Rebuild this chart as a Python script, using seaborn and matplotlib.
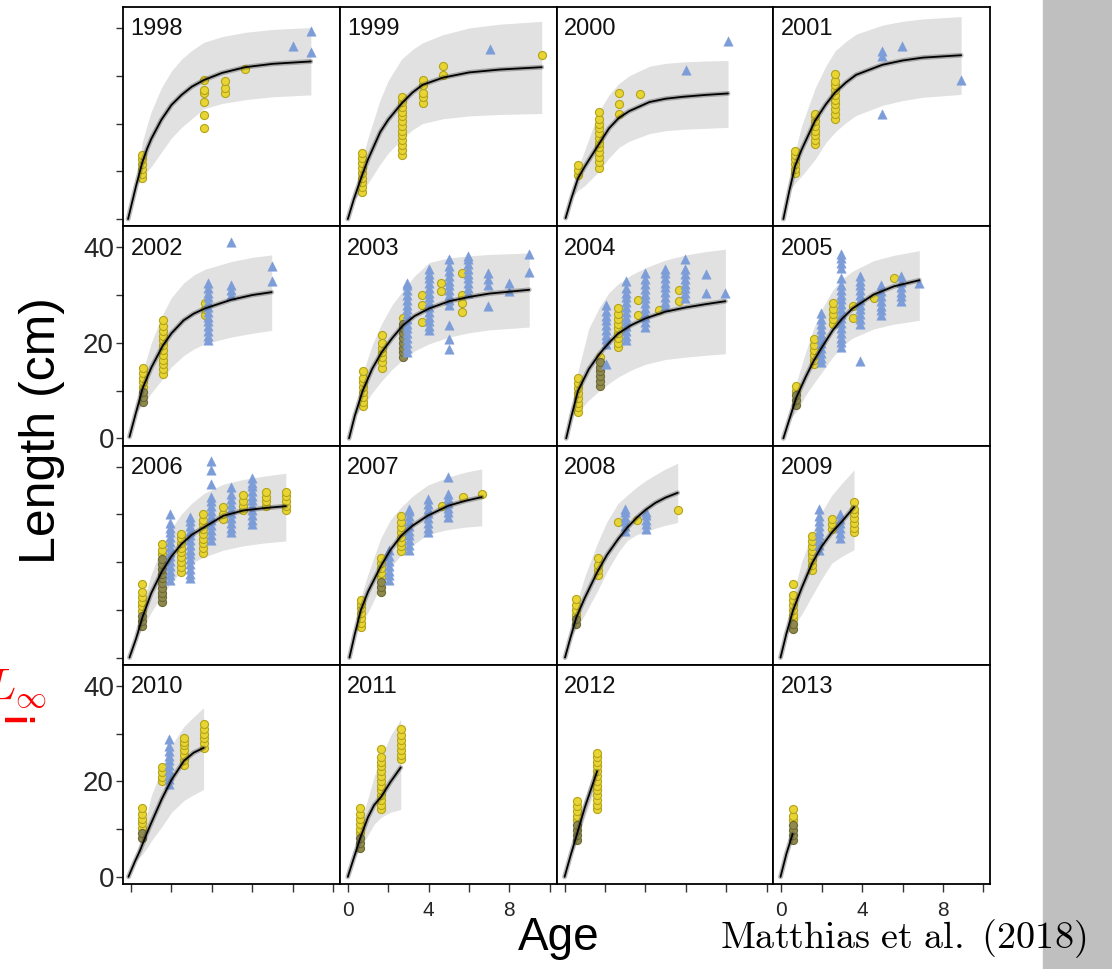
import matplotlib
matplotlib.use("Agg")
import matplotlib.pyplot as plt
from matplotlib.lines import Line2D
from matplotlib.patches import Rectangle
import pandas as pd
import seaborn as sns

# ---------------------------------------------------------------- data
YEARS = [1998, 1999, 2000, 2001, 2002, 2003, 2004, 2005,
         2006, 2007, 2008, 2009, 2010, 2011, 2012, 2013]

# fitted growth curve (age, mean length) per cohort
CURVE_AGE = {
    1998: [-0.15, 0.25, 0.55, 0.8, 1.0, 1.5, 2.0, 2.5, 3.0, 3.6, 4.5, 5.65, 7.0, 8.9],
    1999: [0.0, 0.3, 0.68, 1.0, 1.6, 2.0, 2.66, 3.2, 3.7, 4.7, 6.0, 7.5, 9.6],
    2000: [0.05, 0.35, 0.66, 1.0, 1.7, 2.2, 2.69, 3.2, 4.2, 5.0, 5.85, 7.0, 8.09],
    2001: [0.1, 0.4, 0.68, 1.0, 1.67, 2.2, 2.66, 3.2, 3.7, 5.0, 6.0, 7.0, 8.9],
    2002: [-0.08, 0.25, 0.58, 1.0, 1.57, 2.0, 2.6, 3.1, 3.66, 4.95, 6.0, 6.96],
    2003: [0.06, 0.35, 0.73, 1.2, 1.67, 2.2, 2.74, 3.3, 4.03, 5.02, 6.0, 7.0, 8.98],
    2004: [0.08, 0.35, 0.66, 1.2, 1.73, 2.2, 2.64, 3.3, 4.0, 4.98, 6.0, 7.0, 7.96],
    2005: [0.1, 0.4, 0.73, 1.2, 1.6, 2.0, 2.54, 3.0, 3.53, 4.57, 5.56, 6.83],
    2006: [-0.08, 0.25, 0.56, 1.0, 1.52, 2.0, 2.48, 3.0, 3.58, 4.57, 5.56, 6.6, 7.66],
    2007: [0.08, 0.35, 0.64, 1.0, 1.63, 2.1, 2.64, 3.2, 3.95, 4.98, 5.8, 6.63],
    2008: [0.02, 0.3, 0.58, 1.0, 1.63, 2.1, 2.65, 3.1, 3.6, 4.0, 4.5, 5.0, 5.6],
    2009: [-0.04, 0.25, 0.58, 1.0, 1.53, 2.0, 2.5, 3.0, 3.6],
    2010: [-0.13, 0.2, 0.45, 0.75, 1.0, 1.52, 2.0, 2.62, 3.1, 3.59],
    2011: [0.0, 0.3, 0.62, 1.0, 1.3, 1.66, 2.1, 2.62],
    2012: [0.0, 0.3, 0.61, 1.0, 1.61],
    2013: [-0.04, 0.25, 0.56],
}
CURVE_LEN = {
    1998: [0.0, 7.0, 11.8, 14.8, 16.8, 20.8, 23.9, 26.0, 27.7, 29.1, 30.6, 31.8, 32.5, 33.0],
    1999: [0.0, 4.2, 8.9, 12.5, 18.2, 20.8, 24.2, 26.5, 28.1, 29.6, 30.7, 31.3, 31.8],
    2000: [0.2, 4.5, 8.5, 11.0, 15.7, 19.0, 21.2, 22.6, 24.5, 25.2, 25.6, 26.0, 26.3],
    2001: [0.0, 6.0, 11.1, 14.5, 20.6, 24.0, 26.5, 28.6, 30.2, 32.3, 33.2, 33.8, 34.3],
    2002: [0.3, 5.5, 10.6, 14.8, 19.4, 22.0, 24.7, 26.1, 27.2, 29.0, 30.0, 30.6],
    2003: [0.0, 4.8, 9.9, 14.5, 18.0, 21.0, 23.7, 25.6, 27.2, 28.7, 29.6, 30.3, 31.1],
    2004: [0.0, 4.8, 9.9, 14.5, 17.7, 20.0, 21.9, 23.7, 25.1, 26.5, 27.4, 28.1, 28.7],
    2005: [0.0, 4.0, 8.4, 12.8, 16.2, 19.0, 22.6, 25.0, 27.2, 30.1, 31.8, 33.1],
    2006: [0.0, 4.0, 8.4, 13.5, 18.0, 21.2, 23.7, 25.7, 27.2, 29.7, 30.8, 31.3, 31.7],
    2007: [0.0, 5.0, 9.9, 13.8, 19.1, 22.5, 25.5, 27.6, 29.7, 31.8, 32.8, 33.6],
    2008: [0.0, 4.3, 8.4, 12.5, 18.0, 21.5, 24.8, 27.2, 29.4, 30.9, 32.4, 33.5, 34.5],
    2009: [0.0, 5.0, 9.9, 14.5, 19.8, 23.3, 26.2, 28.5, 31.5],
    2010: [0.0, 3.3, 5.6, 8.8, 11.3, 16.3, 20.3, 24.3, 26.0, 27.0],
    2011: [0.0, 4.0, 8.2, 12.5, 15.0, 16.8, 19.8, 22.9],
    2012: [0.0, 4.5, 8.9, 14.5, 22.1],
    2013: [0.0, 4.8, 9.0],
}
# prediction interval, same ages as the curve
BAND_LO = {
    1998: [0.0, 7.0, 8.5, 10.0, 11.0, 14.0, 17.0, 19.2, 21.0, 23.1, 24.2, 25.0, 25.6, 26.0],
    1999: [0.0, 4.2, 5.5, 7.5, 11.5, 13.8, 16.7, 18.7, 20.0, 21.0, 21.6, 21.9, 22.1],
    2000: [0.2, 4.5, 6.0, 7.0, 10.0, 12.8, 15.0, 16.3, 17.9, 18.5, 18.8, 19.0, 19.2],
    2001: [0.0, 6.0, 7.5, 9.0, 12.5, 16.0, 18.2, 20.2, 21.7, 23.8, 24.8, 25.5, 26.1],
    2002: [0.3, 5.5, 7.0, 9.5, 12.5, 15.0, 17.3, 18.7, 19.8, 21.2, 22.0, 22.6],
    2003: [0.0, 4.8, 6.5, 9.5, 12.0, 14.5, 16.5, 18.3, 19.8, 21.2, 22.1, 22.7, 23.3],
    2004: [0.0, 4.8, 5.5, 8.0, 10.0, 11.5, 12.8, 14.3, 15.5, 16.5, 17.0, 17.4, 17.7],
    2005: [0.0, 4.0, 5.5, 9.0, 11.5, 13.8, 17.0, 19.3, 21.0, 22.9, 23.9, 24.7],
    2006: [0.0, 4.0, 6.0, 9.5, 13.0, 15.8, 18.0, 19.8, 21.0, 22.5, 23.4, 24.0, 24.4],
    2007: [0.0, 5.0, 7.0, 9.5, 15.0, 18.8, 21.5, 23.5, 25.8, 26.8, 27.3, 27.6],
    2008: [0.0, 4.3, 6.0, 9.0, 14.0, 18.0, 22.0, 24.5, 25.8, 26.3, 27.1, 27.7, 28.3],
    2009: [0.0, 5.0, 6.5, 9.0, 13.0, 16.5, 19.8, 21.2, 22.6],
    2010: [0.0, 3.3, 4.2, 5.8, 7.5, 10.5, 13.5, 16.0, 17.2, 18.3],
    2011: [0.0, 4.0, 6.0, 8.8, 11.0, 12.5, 13.5, 14.1],
    2012: [0.0, 4.5, 7.5, 12.5, 19.5],
    2013: [0.0, 4.8, 8.0],
}
BAND_HI = {
    1998: [0.0, 7.0, 16.0, 19.8, 22.5, 27.5, 31.0, 33.5, 35.3, 37.0, 38.2, 39.1, 39.7, 40.1],
    1999: [0.0, 4.2, 12.0, 17.0, 25.0, 29.0, 33.5, 35.5, 36.9, 38.6, 40.0, 40.8, 41.4],
    2000: [0.2, 4.5, 10.5, 14.5, 22.5, 26.0, 28.4, 30.0, 32.0, 32.6, 32.9, 33.1, 33.2],
    2001: [0.0, 6.0, 14.0, 19.5, 27.4, 32.0, 35.2, 37.2, 38.7, 40.6, 41.4, 41.9, 42.4],
    2002: [0.3, 5.5, 14.0, 20.0, 26.0, 29.5, 32.5, 34.2, 35.4, 37.0, 37.9, 38.4],
    2003: [0.0, 4.8, 13.5, 19.5, 24.0, 28.0, 31.0, 34.0, 36.8, 37.8, 38.2, 38.5, 38.8],
    2004: [0.0, 4.8, 14.0, 23.0, 27.5, 30.5, 32.3, 34.2, 35.7, 37.3, 38.4, 39.1, 39.6],
    2005: [0.0, 4.0, 11.5, 18.0, 23.0, 27.0, 31.0, 33.3, 35.0, 37.2, 38.3, 39.3],
    2006: [0.0, 4.0, 11.0, 17.5, 23.0, 27.0, 30.0, 32.3, 34.3, 36.3, 37.3, 38.0, 38.6],
    2007: [0.0, 5.0, 12.5, 17.5, 25.0, 28.8, 31.5, 33.8, 36.1, 37.8, 38.8, 39.5],
    2008: [0.0, 4.3, 11.0, 17.0, 24.0, 28.5, 32.3, 34.0, 35.8, 37.0, 38.3, 39.5, 40.7],
    2009: [0.0, 5.0, 13.0, 20.0, 26.0, 30.5, 34.0, 36.5, 39.3],
    2010: [0.0, 3.3, 7.5, 12.5, 17.0, 22.5, 27.5, 31.5, 33.5, 35.4],
    2011: [0.0, 4.0, 11.0, 16.5, 21.0, 25.0, 29.5, 33.0],
    2012: [0.0, 4.5, 10.5, 16.5, 24.5],
    2013: [0.0, 4.8, 10.0],
}

# observed lengths, grouped by age: (age, [lengths])
CIRCLES = {
    1998: [(0.55, [8.5, 9.5, 10.5, 11.5, 12.5, 13.5]),
           (3.6, [19.1, 21.7, 24.5, 26.4, 27.0, 29.1]),
           (4.65, [26.4, 27.4, 29.0]), (5.65, [31.5])],
    1999: [(0.68, [5.7, 6.7, 7.7, 8.7, 9.7, 10.7, 11.7, 12.7, 13.9]),
           (2.66, [13.5, 14.5, 15.5, 16.5, 17.5, 18.5, 19.5, 20.5, 21.5, 22.5, 23.5, 24.5, 25.6]),
           (3.7, [24.3, 25.5, 26.5, 28.1, 29.1]), (4.7, [30.1, 32.0]), (9.6, [34.3])],
    2000: [(0.66, [9.3, 10.3, 11.4]),
           (1.7, [10.7, 12.0, 13.0, 14.0, 15.0, 16.0, 17.0, 18.0, 19.0, 20.0, 21.0, 22.4]),
           (2.69, [21.9, 24.0, 26.3]), (3.71, [26.2])],
    2001: [(0.68, [9.6, 10.5, 11.5, 12.5, 13.5, 14.3]),
           (1.67, [15.7, 16.5, 17.5, 18.5, 19.5, 20.5, 21.5, 22.1]),
           (2.66, [21.0, 22.0, 23.0, 24.0, 25.0, 26.0, 27.0, 28.0, 29.0, 30.4])],
    2002: [(0.58, [10.7, 11.7, 12.7, 13.7, 14.8]),
           (1.57, [13.4, 14.5, 15.5, 16.5, 17.5, 18.5, 19.5, 20.5, 21.5, 22.5, 23.5, 24.7]),
           (3.66, [25.8, 27.0, 28.3])],
    2003: [(0.73, [6.7, 7.7, 8.7, 9.7, 10.7, 11.7, 12.7, 14.1]),
           (1.67, [14.8, 16.0, 17.0, 18.0, 19.0, 20.0, 21.6]),
           (2.74, [25.1]),
           (3.65, [24.4, 27.9, 30.1]), (4.6, [30.8, 32.6]),
           (5.63, [26.5, 28.3, 30.1, 34.7])],
    2004: [(0.66, [5.6, 6.5, 7.5, 8.5, 9.5, 10.5, 11.5, 12.7]),
           (1.73, [17.0]),
           (2.64, [19.1, 20.0, 21.0, 22.0, 23.0, 24.0, 25.0, 26.0, 27.2]),
           (3.63, [25.8, 28.9]), (4.65, [26.9]), (5.64, [28.7, 31.1])],
    2005: [(0.73, [10.0, 10.9]),
           (1.6, [15.5, 16.5, 17.5, 18.5, 19.5, 20.9]),
           (2.54, [24.0, 25.0, 26.0, 27.0, 28.3]),
           (3.53, [25.1, 27.6]), (4.57, [29.4]), (5.56, [33.6])],
    2006: [(0.56, [9.7, 10.7, 11.7, 12.7, 13.7, 15.5]),
           (1.52, [21.6, 22.6, 23.7]),
           (2.48, [18.0, 19.0, 20.0, 21.0, 22.0, 23.0, 24.0, 25.0, 25.8]),
           (3.58, [21.9, 22.9, 23.9, 24.9, 25.9, 26.9, 27.9, 28.9, 30.1]),
           (4.57, [29.0, 30.0, 31.5]), (5.56, [30.8, 31.8, 32.8, 34.0]),
           (6.67, [31.8, 32.8, 33.7, 34.7]), (7.66, [30.8, 31.8, 32.8, 33.8, 34.7])],
    2007: [(0.64, [6.3, 7.3, 8.3, 9.3, 10.3, 11.2, 12.0]),
           (1.63, [16.8, 17.8, 18.8, 19.8, 20.9]),
           (2.64, [22.3, 23.3, 24.3, 25.3, 26.3, 27.3, 28.3, 29.7]),
           (4.67, [31.8]), (5.7, [33.6]), (6.63, [34.3])],
    2008: [(0.58, [9.0, 10.0, 11.0, 12.3]),
           (1.63, [17.3, 18.3, 19.3, 20.9]),
           (2.65, [28.3]), (3.6, [28.9]), (5.6, [30.8])],
    2009: [(0.58, [8.0, 9.0, 10.0, 11.0, 12.0, 13.0, 15.5]),
           (1.53, [18.4, 19.4, 20.4, 21.4, 22.4, 23.4, 24.4, 25.5]),
           (2.5, [26.9, 27.9, 29.0]),
           (3.6, [26.2, 27.2, 28.2, 29.2, 30.2, 31.2, 32.6])],
    2010: [(0.56, [10.2, 11.2, 12.2, 13.2, 14.5]),
           (1.52, [20.0, 21.0, 22.0, 22.9]),
           (2.62, [23.5, 24.5, 25.5, 26.5, 27.5, 28.3, 29.1]),
           (3.59, [27.0, 28.0, 29.0, 30.0, 31.0, 31.9])],
    2011: [(0.62, [9.1, 10.1, 11.1, 12.1, 13.1, 14.5]),
           (1.66, [14.1, 15.1, 16.1, 17.1, 18.1, 19.1, 20.1, 21.1, 22.1, 23.1, 24.1, 25.1, 26.7]),
           (2.62, [24.6, 25.6, 26.6, 27.6, 28.6, 29.6, 30.9])],
    2012: [(0.61, [11.8, 12.8, 13.8, 14.8, 15.9]),
           (1.61, [14.1, 15.1, 16.1, 17.1, 18.1, 19.1, 20.1, 21.1, 22.1, 23.1, 24.1, 25.1, 26.0])],
    2013: [(0.56, [11.8, 12.8, 14.1])],
}
# circles seen through the dark confidence ribbon of the curve
CIRCLES_SHADED = {
    2002: [(0.58, [7.7, 8.7, 9.7])],
    2003: [(2.74, [17.0, 18.0, 19.0, 20.0, 21.0, 22.0, 23.0, 24.0])],
    2004: [(1.73, [10.9, 12.0, 13.0, 14.0, 15.0, 16.0])],
    2005: [(0.73, [7.0, 8.0, 9.0])],
    2006: [(0.56, [6.7, 7.7, 8.7]),
           (1.52, [11.6, 12.6, 13.6, 14.6, 15.6, 16.6, 17.6, 18.6, 19.6, 20.6])],
    2007: [(1.63, [13.8, 14.8, 15.8])],
    2008: [(0.58, [7.0, 8.0])],
    2009: [(0.58, [6.0, 7.0])],
    2010: [(0.56, [8.2, 9.2])],
    2011: [(0.62, [6.1, 7.1, 8.1])],
    2012: [(0.61, [7.8, 8.8, 9.8, 10.8])],
    2013: [(0.56, [7.8, 8.8, 9.8, 10.8])],
}
TRIANGLES = {
    1998: [(8.0, [36.2]), (8.9, [35.0, 39.4])],
    1999: [(7.06, [35.7])],
    2000: [(6.02, [31.3]), (8.09, [37.3])],
    2001: [(5.0, [22.1, 34.1, 35.2]), (5.96, [36.2]), (8.9, [29.1])],
    2002: [(3.8, [20.5, 21.5, 22.5, 23.5, 24.5, 25.5, 26.5, 27.5, 28.5, 29.5, 30.5, 31.5, 32.6]),
           (4.95, [30.1, 31.1, 32.2, 41.1]), (6.96, [32.9, 36.1])],
    2003: [(2.95, [18.0, 19.0, 20.0, 21.0, 22.0, 23.0, 24.0, 25.0, 26.0, 27.0, 28.0,
                   29.0, 30.0, 31.0, 32.0, 32.6]),
           (4.03, [22.6, 23.5, 24.5, 25.5, 26.5, 27.5, 28.5, 29.5, 30.5, 31.5, 32.5,
                   33.5, 34.5, 35.4]),
           (5.02, [18.7, 20.9, 23.7, 27.9, 29.0, 30.0, 31.0, 32.0, 33.0, 34.0, 35.0,
                   36.0, 37.5]),
           (5.96, [30.4, 31.5, 32.5, 33.5, 34.5, 35.5, 36.5, 37.5, 38.2]),
           (6.95, [27.6, 32.2, 33.3, 34.7]), (7.99, [30.8, 32.6]), (8.98, [34.8, 38.6])],
    2004: [(2.06, [15.5, 19.8, 20.7, 21.7, 22.7, 23.7, 24.7, 25.7, 26.7, 27.9]),
           (3.02, [20.5, 21.5, 22.5, 23.5, 24.5, 25.5, 26.5, 27.5, 28.5, 29.5, 30.5,
                   31.5, 32.9]),
           (4.0, [23.3, 24.3, 25.3, 26.3, 27.3, 28.3, 29.3, 30.3, 31.3, 32.3, 33.3, 34.7]),
           (4.98, [27.6, 28.6, 29.6, 30.6, 31.6, 32.6, 33.6, 34.6, 35.4]),
           (5.98, [29.4, 30.4, 31.4, 32.4, 33.4, 34.4, 35.4, 37.5]),
           (7.0, [30.4, 34.3]), (7.96, [30.4])],
    2005: [(1.96, [15.9, 16.9, 17.9, 18.9, 19.9, 20.9, 21.9, 22.9, 23.9, 24.9, 26.2]),
           (2.95, [19.1, 20.1, 21.1, 22.1, 23.1, 24.1, 25.1, 26.1, 27.1, 28.1, 29.1,
                   30.1, 31.1, 32.1, 33.6, 35.7, 36.7, 37.7, 38.6]),
           (3.91, [16.2, 24.0, 25.0, 26.0, 27.0, 28.0, 29.0, 30.0, 31.0, 32.0, 33.0, 34.0]),
           (4.94, [25.8, 26.8, 27.8, 28.8, 29.8, 30.8, 32.2]),
           (5.93, [28.7, 29.7, 30.7, 31.7, 32.7, 34.0]), (6.83, [32.6])],
    2006: [(1.93, [16.2, 17.2, 18.2, 19.2, 20.2, 21.2, 22.2, 23.2, 24.2, 25.2, 26.2,
                   27.2, 28.2, 30.1]),
           (2.92, [16.6, 17.6, 18.6, 19.6, 20.6, 21.6, 22.6, 23.6, 24.6, 25.6, 26.6,
                   27.6, 28.6, 29.4]),
           (3.94, [24.7, 25.7, 26.7, 27.7, 28.7, 29.7, 30.7, 31.7, 32.7, 33.7, 36.4,
                   39.3, 41.1]),
           (4.94, [26.2, 27.2, 28.2, 29.2, 30.2, 31.2, 32.2, 33.2, 34.2, 35.7]),
           (5.97, [27.9, 28.9, 29.9, 30.9, 31.9, 32.9, 33.9, 34.9, 35.9, 36.6, 37.5])],
    2007: [(2.02, [16.2, 17.2, 18.2, 19.2, 20.2, 21.2, 22.6]),
           (3.02, [22.6, 23.6, 24.6, 25.6, 26.6, 27.6, 28.6, 29.6, 30.6, 31.1]),
           (3.95, [26.2, 27.2, 28.2, 29.2, 30.2, 31.2, 32.2, 33.3]),
           (4.98, [29.4, 30.4, 31.4, 32.4, 33.4, 34.3, 37.9])],
    2008: [(2.98, [26.5, 27.5, 28.5, 29.5, 30.5, 31.1]),
           (4.01, [26.9, 27.9, 28.9, 29.9, 30.4])],
    2009: [(1.88, [22.6, 23.6, 24.6, 25.6, 26.6, 27.6, 28.6, 29.6, 31.1]),
           (2.92, [25.1, 26.1, 27.1, 28.1, 29.1, 30.1])],
    2010: [(1.88, [19.4, 20.4, 21.4, 22.4, 23.4, 24.4, 25.4, 26.4, 27.4, 28.8])],
}

Y_TICKS = [0, 10, 20, 30, 40]
Y_TICK_LABELS = ["0", "", "20", "", "40"]
X_TICKS = [0, 2, 4, 6, 8, 10]
X_TICK_LABELS = ["0", "", "4", "", "8", ""]

# ---------------------------------------------------------------- tables
curve_rows = []
for yr in YEARS:
    for a, m, lo, hi in zip(CURVE_AGE[yr], CURVE_LEN[yr], BAND_LO[yr], BAND_HI[yr]):
        curve_rows.append(dict(year=yr, age=a, length=m, lo=lo, hi=hi))
curves = pd.DataFrame(curve_rows)

point_rows = []
for kind, table in (("circle", CIRCLES), ("shaded", CIRCLES_SHADED),
                    ("triangle", TRIANGLES)):
    for yr in YEARS:
        for a, lengths in table.get(yr, []):
            for v in lengths:
                point_rows.append(dict(year=yr, age=a, length=v, kind=kind))
points = pd.DataFrame(point_rows)

# ---------------------------------------------------------------- style
sns.set_theme(style="ticks")
plt.rcParams["font.family"] = ["Liberation Sans", "DejaVu Sans"]
plt.rcParams["mathtext.fontset"] = "cm"

W, H = 1112, 969
MARKERS = {
    "circle": dict(marker="o", s=34, color="#e8d534", edgecolor="#b3a318", linewidth=0.8),
    "shaded": dict(marker="o", s=34, color="#8f8a4c", edgecolor="#6c6836", linewidth=0.8),
    "triangle": dict(marker="^", s=46, color="#7d9dd9", edgecolor="#7d9dd9", linewidth=0.3),
}
BAND = "#e1e1e1"

fig, axes = plt.subplots(4, 4, figsize=(W / 100, H / 100), dpi=100)
fig.subplots_adjust(left=123 / W, right=990 / W, top=1 - 7 / H,
                    bottom=1 - 884 / H, wspace=0, hspace=0)

for idx, yr in enumerate(YEARS):
    r, c = divmod(idx, 4)
    ax = axes[r, c]
    cv = curves[curves.year == yr]
    pts = points[points.year == yr]

    ax.fill_between(cv.age, cv.lo, cv.hi, color=BAND, lw=0, zorder=1)

    for kind in ("circle", "shaded", "triangle"):
        sub = pts[pts.kind == kind]
        if len(sub):
            sns.scatterplot(data=sub, x="age", y="length", ax=ax, legend=False,
                            zorder=3, **MARKERS[kind])

    # confidence ribbon of the mean curve, then the curve itself
    sns.lineplot(data=cv, x="age", y="length", ax=ax, estimator=None, sort=False,
                 color="#3a3a3a", lw=3.5, alpha=0.35, zorder=4)
    sns.lineplot(data=cv, x="age", y="length", ax=ax, estimator=None, sort=False,
                 color="black", lw=1.3, zorder=5)

    ax.set_xlim(-0.4, 10.33)
    ax.set_ylim(-1.5, 44.4)
    ax.set_xlabel("")
    ax.set_ylabel("")
    for sp in ax.spines.values():
        sp.set_color("black")
        sp.set_linewidth(1.3)

    ax.text(0.035, 0.948, str(yr), transform=ax.transAxes, fontsize=17,
            ha="left", va="top", color="#111111")

    ax.set_yticks(Y_TICKS)
    ax.set_xticks(X_TICKS)
    if c == 0:
        ax.set_yticklabels(Y_TICK_LABELS if r in (1, 3) else [""] * len(Y_TICKS))
    else:
        ax.tick_params(axis="y", left=False, labelleft=False)
    if r == 3:
        ax.set_xticklabels(X_TICK_LABELS if c in (1, 3) else [""] * len(X_TICKS))
    else:
        ax.tick_params(axis="x", bottom=False, labelbottom=False)
    ax.tick_params(axis="y", direction="out", length=5, width=1, color="#333333",
                   labelsize=20, pad=1.5)
    ax.tick_params(axis="x", direction="out", length=6, width=1, color="#333333",
                   labelsize=15, pad=6)

# ---------------------------------------------------------------- page furniture
def fx(px):
    return px / W


def fy(py):
    return 1 - py / H


fig.patches.append(Rectangle((fx(1043), 0), fx(W) - fx(1043), 1,
                             transform=fig.transFigure, color="#bfbfbf", zorder=0))

fig.text(fx(42), fy(431), "Length (cm)", rotation=90, fontsize=36,
         ha="center", va="center", color="black")
fig.text(fx(559), fy(938), "Age", fontsize=33, ha="center", va="center",
         color="black")
fig.text(fx(903), fy(939), r"$\mathrm{Matthias\ et\ al.\ (2018)}$", fontsize=27.5,
         ha="center", va="center", color="black", zorder=5)

fig.text(fx(46), fy(700), r"$L_\infty$", fontsize=32, color="red",
         ha="right", va="baseline")
for x0, x1 in ((5, 27), (30, 35)):
    fig.add_artist(Line2D([fx(x0), fx(x1)], [fy(720), fy(720)],
                          transform=fig.transFigure, color="red", lw=3.2,
                          solid_capstyle="butt"))

fig.savefig("out.png", dpi=100)
